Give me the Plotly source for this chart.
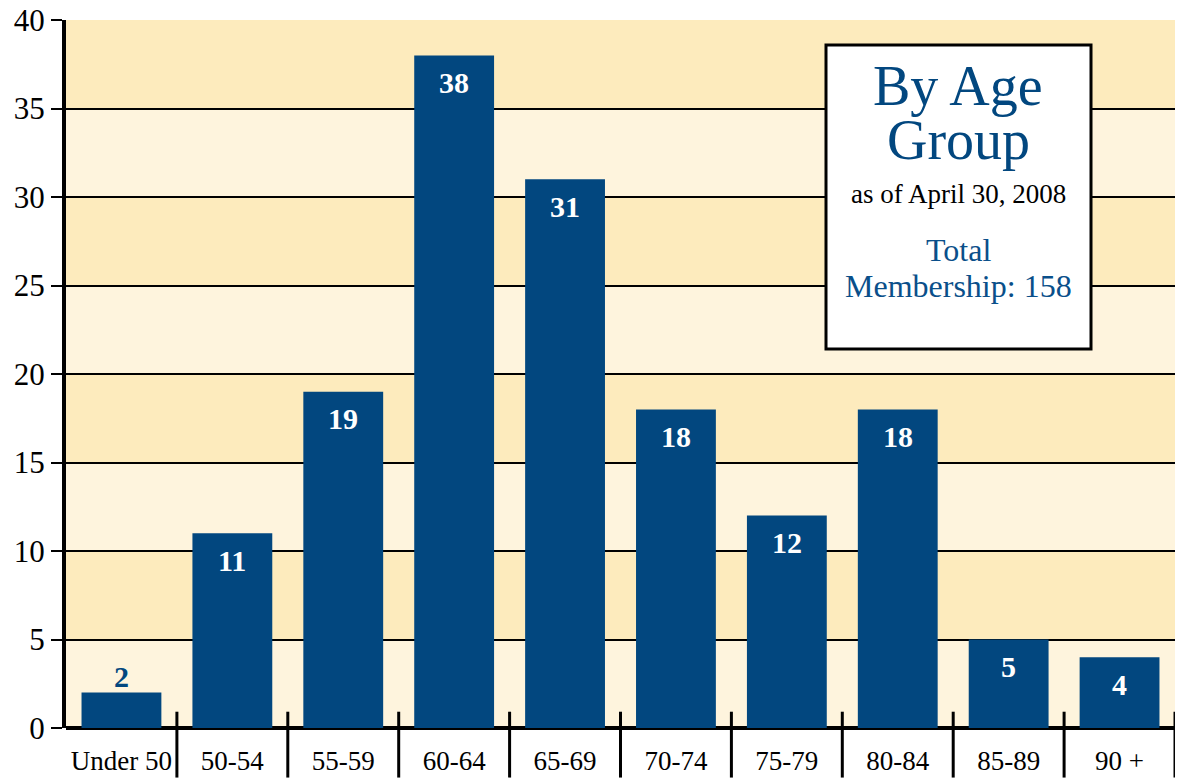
import plotly.graph_objects as go

categories = ["Under 50", "50-54", "55-59", "60-64", "65-69", "70-74", "75-79", "80-84", "85-89", "90 +"]
members = [2, 11, 19, 38, 31, 18, 12, 18, 5, 4]
y_ticks = [0, 5, 10, 15, 20, 25, 30, 35, 40]

BAR = "#02477f"
DARK_BAND = "#fdebbd"
LIGHT_BAND = "#fef4dd"
SERIF = "Liberation Serif, Times New Roman, serif"

fig = go.Figure()
fig.add_trace(go.Bar(
    x=categories, y=members, width=0.72,
    marker=dict(color=BAR, line=dict(width=0)),
    hoverinfo="skip",
))

shapes = []
# alternating bands
for i in range(len(y_ticks) - 1):
    lo, hi = y_ticks[i], y_ticks[i + 1]
    shapes.append(dict(type="rect", xref="paper", yref="y", x0=0, x1=1, y0=lo, y1=hi,
                       fillcolor=DARK_BAND if i % 2 == 1 else LIGHT_BAND,
                       line=dict(width=0), layer="below"))
# category dividers below axis
for k in range(1, len(categories) + 1):
    shapes.append(dict(type="line", xref="x", yref="paper", x0=k - 0.5, x1=k - 0.5,
                       y0=0.023, y1=-0.07, line=dict(color="black", width=3)))
# info box
shapes.append(dict(type="rect", xref="paper", yref="paper",
                   x0=(826 - 66) / 1109, x1=(1091 - 66) / 1109,
                   y0=(728 - 349) / 708, y1=(728 - 45) / 708,
                   fillcolor="white", line=dict(color="black", width=3)))

annotations = []
for c, v in zip(categories, members):
    if v >= 4:
        annotations.append(dict(x=c, y=v, xref="x", yref="y", text=f"<b>{v}</b>", showarrow=False,
                                yshift=-27, font=dict(family=SERIF, size=30, color="white")))
    else:
        annotations.append(dict(x=c, y=v, xref="x", yref="y", text=f"<b>{v}</b>", showarrow=False,
                                yshift=16, font=dict(family=SERIF, size=30, color=BAR)))

bx = (958 - 66) / 1109
def py(p):
    return (728 - p) / 708
box_text = [
    ("By Age", 86, 56, BAR),
    ("Group", 140, 56, BAR),
    ("as of April 30, 2008", 194, 27, "black"),
    ("Total", 250, 32, "#0a4f8a"),
    ("Membership: 158", 286, 32, "#0a4f8a"),
]
for t, yy, sz, col in box_text:
    annotations.append(dict(x=bx, y=py(yy), xref="paper", yref="paper", text=t, showarrow=False,
                            xanchor="center", yanchor="middle",
                            font=dict(family=SERIF, size=sz, color=col)))

fig.update_layout(
    width=1181, height=780,
    margin=dict(l=66, r=6, t=20, b=52),
    paper_bgcolor="white", plot_bgcolor=LIGHT_BAND,
    showlegend=False, bargap=0.28,
    shapes=shapes, annotations=annotations,
    font=dict(family=SERIF, color="black"),
)
fig.update_xaxes(
    range=[-0.5, 9.5], showgrid=False, ticks="", showline=False, zeroline=False,
    tickfont=dict(family=SERIF, size=27, color="black"),
    ticklabelstandoff=14, automargin=False,
)
fig.update_yaxes(
    range=[0, 40], tickvals=y_ticks, showgrid=True, gridcolor="black", gridwidth=2,
    ticks="outside", ticklen=11, tickwidth=2, tickcolor="black",
    showline=True, linecolor="black", linewidth=4,
    zeroline=True, zerolinecolor="black", zerolinewidth=4,
    tickfont=dict(family=SERIF, size=31, color="black"),
    layer="below traces", automargin=False,
)
fig.write_html("out.html")
